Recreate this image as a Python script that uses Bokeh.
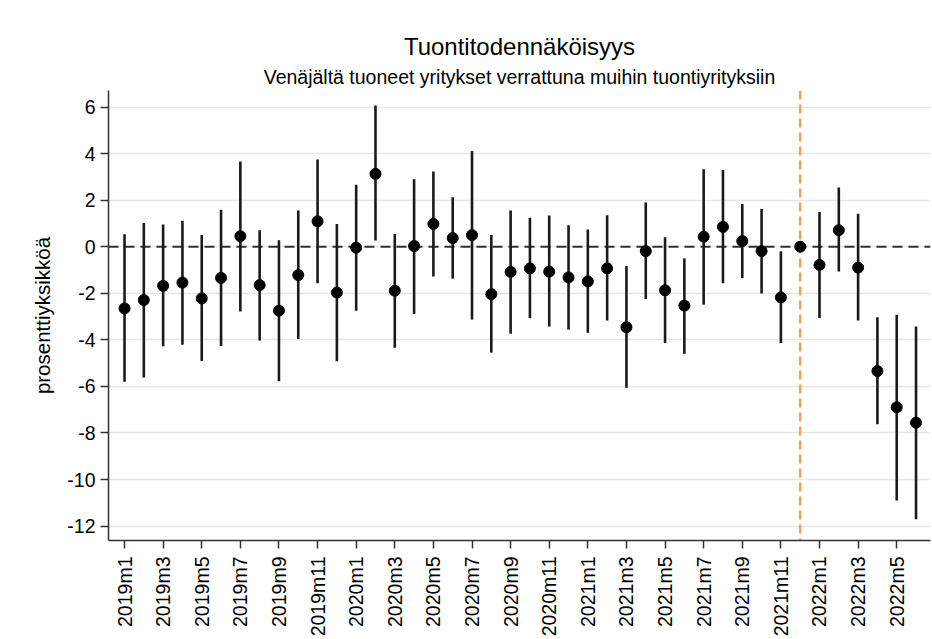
import math
from bokeh.plotting import figure
from bokeh.models import Span, Title, FixedTicker, ColumnDataSource, Range1d
from bokeh.embed import file_html
from bokeh.resources import INLINE

nan = float("nan")

months = ["2019m1", "2019m2", "2019m3", "2019m4", "2019m5", "2019m6", "2019m7", "2019m8",
          "2019m9", "2019m10", "2019m11", "2019m12", "2020m1", "2020m2", "2020m3", "2020m4",
          "2020m5", "2020m6", "2020m7", "2020m8", "2020m9", "2020m10", "2020m11", "2020m12",
          "2021m1", "2021m2", "2021m3", "2021m4", "2021m5", "2021m6", "2021m7", "2021m8",
          "2021m9", "2021m10", "2021m11", "2021m12", "2022m1", "2022m2", "2022m3", "2022m4",
          "2022m5", "2022m6"]

estimate = [-2.65, -2.29, -1.68, -1.54, -2.22, -1.34, 0.45, -1.65, -2.75, -1.22, 1.09, -1.97,
            -0.04, 3.13, -1.89, 0.03, 0.98, 0.37, 0.50, -2.04, -1.08, -0.93, -1.07, -1.32,
            -1.49, -0.93, -3.46, -0.19, -1.87, -2.53, 0.43, 0.85, 0.24, -0.19, -2.18, 0.0,
            -0.78, 0.71, -0.90, -5.34, -6.90, -7.56]
ci_low = [-5.80, -5.62, -4.28, -4.21, -4.91, -4.27, -2.78, -4.03, -5.78, -3.96, -1.57, -4.92,
          -2.75, 0.27, -4.34, -2.89, -1.28, -1.37, -3.13, -4.55, -3.74, -3.07, -3.43, -3.56,
          -3.70, -3.17, -6.06, -2.25, -4.14, -4.60, -2.49, -1.57, -1.35, -2.01, -4.14, nan,
          -3.06, -1.07, -3.17, -7.63, -10.90, -11.71]
ci_high = [0.53, 1.02, 0.95, 1.12, 0.50, 1.59, 3.66, 0.71, 0.28, 1.55, 3.75, 0.98,
           2.66, 6.07, 0.55, 2.90, 3.23, 2.12, 4.11, 0.50, 1.56, 1.24, 1.34, 0.92,
           0.74, 1.35, -0.83, 1.90, 0.41, -0.50, 3.33, 3.30, 1.83, 1.62, -0.19, nan,
           1.49, 2.54, 1.42, -3.03, -2.92, -3.43]

y_ticks = [-12, -10, -8, -6, -4, -2, 0, 2, 4, 6]
y_tick_labels = ["-12", "-10", "-8", "-6", "-4", "-2", "0", "2", "4", "6"]
x_tick_idx = list(range(0, 42, 2))
reference_month = "2021m12"

title_text = "Tuontitodennäköisyys"
subtitle_text = "Venäjältä tuoneet yritykset verrattuna muihin tuontiyrityksiin"
y_label = "prosenttiyksikköä"

FONT = "Liberation Sans"

xs = list(range(len(months)))
src = ColumnDataSource(dict(x=xs, est=estimate, lo=ci_low, hi=ci_high))

p = figure(width=932, height=639, output_backend="svg", toolbar_location=None,
           x_range=Range1d(-0.83, 41.75), y_range=Range1d(-12.62, 6.71),
           min_border_left=108, min_border_right=2, min_border_bottom=96, min_border_top=90)
p.outline_line_color = None
p.background_fill_color = "white"
p.border_fill_color = "white"

# titles
p.add_layout(Title(text=subtitle_text, align="center", text_font=FONT, text_font_size="19.5px",
                   text_font_style="normal", text_color="black", standoff=6), "above")
p.add_layout(Title(text=title_text, align="center", text_font=FONT, text_font_size="24px",
                   text_font_style="normal", text_color="black", standoff=2), "above")

# grid
p.xgrid.visible = False
p.ygrid.grid_line_color = "#e6e6e6"
p.ygrid.grid_line_width = 1.5
p.ygrid.ticker = FixedTicker(ticks=y_ticks)

# axes
p.yaxis.ticker = FixedTicker(ticks=y_ticks)
p.yaxis.major_label_overrides = {v: s for v, s in zip(y_ticks, y_tick_labels)}
p.yaxis.axis_label = y_label
p.yaxis.axis_label_text_font = FONT
p.yaxis.axis_label_text_font_size = "20.5px"
p.yaxis.axis_label_text_font_style = "normal"
p.yaxis.axis_label_text_color = "black"
p.yaxis.axis_label_standoff = 10
p.yaxis.major_label_text_font = FONT
p.yaxis.major_label_text_font_size = "19.5px"
p.yaxis.major_label_standoff = 5
p.yaxis.major_tick_out = 8
p.yaxis.major_tick_in = 0
p.yaxis.minor_tick_line_color = None
p.yaxis.axis_line_color = "#333333"
p.yaxis.axis_line_width = 1.5
p.yaxis.major_tick_line_color = "#333333"
p.yaxis.major_tick_line_width = 1.5
p.yaxis.major_label_text_color = "black"

p.xaxis.ticker = FixedTicker(ticks=x_tick_idx)
p.xaxis.major_label_overrides = {i: months[i] for i in x_tick_idx}
p.xaxis.major_label_orientation = math.pi / 2
p.xaxis.major_label_text_font = FONT
p.xaxis.major_label_text_font_size = "19.5px"
p.xaxis.major_label_standoff = 8
p.xaxis.major_tick_out = 8
p.xaxis.major_tick_in = 0
p.xaxis.minor_tick_line_color = None
p.xaxis.axis_line_color = "#333333"
p.xaxis.axis_line_width = 1.5
p.xaxis.major_tick_line_color = "#333333"
p.xaxis.major_tick_line_width = 1.5
p.xaxis.major_label_text_color = "black"

# reference lines (drawn beneath the markers)
p.add_layout(Span(location=0, dimension="width", line_color="#333333", line_width=2,
                  line_dash="10 6", level="underlay"))
p.add_layout(Span(location=months.index(reference_month), dimension="height",
                  line_color="#F5A05A", line_width=2.5, line_dash="9 5", level="underlay"))

# CIs and points
p.segment(x0="x", y0="lo", x1="x", y1="hi", source=src, line_color="#1a1a1a", line_width=2.6)
p.scatter(x="x", y="est", source=src, size=11, fill_color="black", line_color="black")

open("out.html", "w").write(file_html(p, INLINE))
